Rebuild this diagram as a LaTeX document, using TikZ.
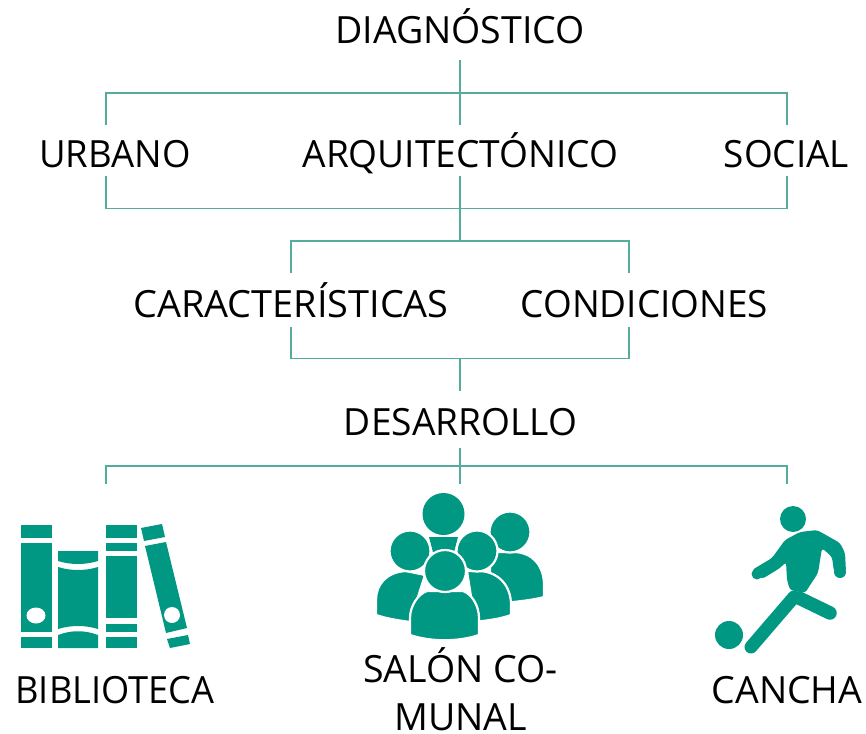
\documentclass[tikz,border=0pt]{standalone}
\usepackage{fontspec}
\setmainfont{Open Sans}
\definecolor{teal1}{HTML}{009882}
\definecolor{line1}{HTML}{55AB9C}
\tikzset{
  lab/.style={font=\fontsize{37.5}{48}\selectfont, text=black, inner sep=0pt, align=center, anchor=base},
  conn/.style={draw=line1, line width=1.8pt},
  ico/.style={fill=teal1, draw=none},
  person/.style={fill=teal1, draw=white, line width=2.2pt, line join=round},
  limb/.style={draw=teal1, line cap=round, line join=round},
}
\begin{document}
\begin{tikzpicture}[x=1pt,y=-1pt]
\useasboundingbox (0,0) rectangle (866,733);
% labels
\node[lab] (diag) at (460,44) {DIAGNÓSTICO};
\node[lab] (urb) at (115,167) {\scalebox{0.975}[1]{URBANO}};
\node[lab] (arq) at (460.5,167) {\scalebox{0.99}[1]{ARQUITECTÓNICO}};
\node[lab] (soc) at (786.5,167) {\scalebox{0.985}[1]{SOCIAL}};
\node[lab] (car) at (291,317) {\scalebox{1.01}[1]{CARACTERÍSTICAS}};
\node[lab] (con) at (644.5,317) {\scalebox{0.985}[1]{CONDICIONES}};
\node[lab] (des) at (460.5,435) {\scalebox{0.99}[1]{DESARROLLO}};
\node[lab] (bib) at (115,703) {\scalebox{0.966}[1]{BIBLIOTECA}};
\node[lab] (sal) at (460.5,730.5) {SALÓN CO-\\MUNAL};
\node[lab] (can) at (787,703) {CANCHA};
% junctions
\coordinate (j1) at (460,93);
\coordinate (jl) at (106,93);
\coordinate (jr) at (787,93);
\coordinate (k1) at (460,208.5);
\coordinate (kl) at (106,208.5);
\coordinate (kr) at (787,208.5);
\coordinate (m1) at (460,241);
\coordinate (ml) at (291,241);
\coordinate (mr) at (629,241);
\coordinate (n1) at (460,358.5);
\coordinate (nl) at (291,358.5);
\coordinate (nr) at (629,358.5);
\coordinate (p1) at (460,466);
\coordinate (pl) at (106,466);
\coordinate (pr) at (787,466);
\draw[conn] (460,60) -- (j1);
\draw[conn] (106,125) -- (jl) -- (jr) -- (787,125);
\draw[conn] (j1) -- (460,125);
\draw[conn] (106,176) -- (kl) -- (kr) -- (787,176);
\draw[conn] (460,176) -- (m1);
\draw[conn] (291,273) -- (ml) -- (mr) -- (629,273);
\draw[conn] (291,327) -- (nl) -- (nr) -- (629,327);
\draw[conn] (n1) -- (460,391);
\draw[conn] (460,448) -- (p1);
\draw[conn] (106,484) -- (pl) -- (pr) -- (787,484);
\draw[conn] (p1) -- (460,484);
% books
\fill[ico] (21,525) rectangle (52,538);
\fill[ico] (21,543) rectangle (52,632);
\fill[ico] (21,637) rectangle (52,648);
\fill[white] (36,615.5) ellipse (9.5 and 8);
\fill[ico] (58,551) -- (98,551) -- (98,561) .. controls (85,565) and (71,565) .. (58,561) -- cycle;
\fill[ico] (58,567) .. controls (71,571) and (85,571) .. (98,567) -- (98,629) .. controls (85,625) and (71,625) .. (58,629) -- cycle;
\fill[ico] (58,635) .. controls (71,630) and (85,630) .. (98,635) -- (98,648) -- (58,648) -- cycle;
\fill[ico] (106,525) rectangle (137,538);
\fill[ico] (106,543) rectangle (137,551);
\fill[ico] (106,556) rectangle (137,618);
\fill[ico] (106,624) rectangle (137,632);
\fill[ico] (106,637) rectangle (137,648);
\fill[ico] (141,528) -- (162,524) -- (165,537) -- (144,541) -- cycle;
\fill[ico] (145,546) -- (166,542) -- (187,628) -- (166,633) -- cycle;
\fill[white] (172,615) circle (8);
\fill[ico] (167,639) -- (188,635) -- (190,644) -- (170,648) -- cycle;
% people
\fill[ico] (429,537) -- (458,537) -- (452,560) -- (435,560) -- cycle;
\filldraw[person] (490,552) -- (515,552) .. controls (533,553) and (544,566) .. (544,585) -- (544,597) .. controls (533,600) and (522,601) .. (505,603) -- (490,590) -- cycle;
\filldraw[person] (510,532) circle (20.5);
\fill[ico] (443.5,514) circle (21);
\filldraw[person] (406,571) .. controls (386,572) and (376,585) .. (376,600) -- (376,615) .. controls (385,618) and (395,620) .. (410,622) -- (425,575) -- cycle;
\filldraw[person] (410,551) circle (20.5);
\filldraw[person] (467,571) -- (480,571) .. controls (498,572) and (511,585) .. (511,605) -- (511,615) .. controls (500,619) and (490,620) .. (475,622) -- cycle;
\filldraw[person] (477,551) circle (20.5);
\filldraw[person] (427,591) -- (463,591) .. controls (472,594) and (479,606) .. (479,618) -- (479,635) .. controls (458,642) and (431,642) .. (410,635) -- (410,618) .. controls (410,606) and (418,594) .. (427,591) -- cycle;
\filldraw[person] (445,571) circle (21);
% player
\fill[ico] (793,519) circle (13);
\fill[ico] (729,635) circle (14);
\fill[ico, rounded corners=3pt] (785,540) -- (800,532) -- (817,530) -- (840,543) -- (845,553) -- (846,572) -- (834,572) -- (832,557) -- (822,548) -- (818,573) -- (805,593) -- (790,590) -- (787,580) -- (786,562) -- (780,568) -- (762,579) -- (752,570) -- (772,558) -- cycle;
\fill[ico] (840,572) circle (6);
\fill[ico] (757,574) circle (5.5);
\draw[limb, line width=13pt] (751,647) -- (794,597);
\draw[limb, line width=13.5pt] (799,598) -- (830,613);
\end{tikzpicture}
\end{document}
